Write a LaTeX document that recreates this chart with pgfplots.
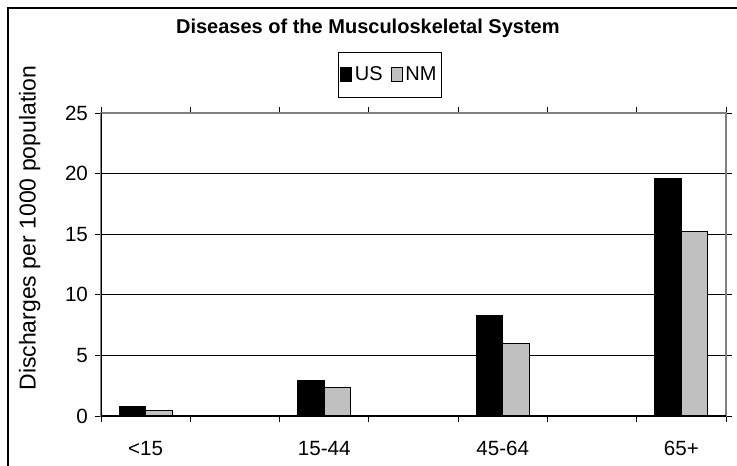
\documentclass[border=0pt]{standalone}
\usepackage{pgfplots}
\pgfplotsset{compat=1.18}
\usepackage{fontspec}
\setmainfont{Liberation Sans}
\definecolor{nmgray}{RGB}{192,192,192}
\definecolor{framegray}{RGB}{128,128,128}

\begin{document}
\begin{tikzpicture}
\clip (-50.5pt,-24.5pt) rectangle (318pt,208pt);
\fill[white] (-50.5pt,-24.5pt) rectangle (318pt,208pt);
\draw[black, line width=0.6pt] (-46.5pt,-40pt) -- (-46.5pt,204pt) -- (340pt,204pt);
\begin{axis}[
    at={(0,0)}, anchor=south west,
    scale only axis,
    width=312.5pt, height=151.5pt,
    ybar=0pt,
    bar width=13.25pt,
    xmin=-0.5, xmax=6.5,
    ymin=0, ymax=25,
    xtick={0,2,4,6},
    xticklabels={<15,15-44,45-64,65+},
    major x tick style={draw=none},
    minor xtick={-0.5,0.5,...,6.5},
    ytick={0,5,...,25},
    tick align=outside,
    major tick length=3pt,
    minor tick length=3pt,
    tick style={black, line width=0.5pt},
    ymajorgrids,
    major grid style={black, line width=0.5pt},
    axis line style={framegray, line width=0.6pt},
    tick label style={font=\fontsize{10.3}{12}\selectfont},
    /pgf/number format/assume math mode=true,
    xticklabel style={yshift=-6pt},
    ylabel={Discharges per 1000 population},
    ylabel style={at={(axis description cs:-0.114,0.62)}, anchor=center, font=\fontsize{11.5}{13}\selectfont},
    title={\textbf{Diseases of the Musculoskeletal System}},
    title style={at={(axis description cs:0.427,1.24)}, anchor=center, font=\fontsize{10}{12}\selectfont},
    legend style={at={(axis description cs:0.462,1.125)}, anchor=center,
        draw=black, line width=0.4pt, legend columns=2,
        font=\fontsize{10}{12}\selectfont, inner xsep=1pt, inner ysep=5pt,
        nodes={inner xsep=1.5pt},
        /tikz/every even column/.append style={column sep=2.5pt}},
    legend image code/.code={\draw[#1, line width=0.4pt] (0pt,-3pt) rectangle (5.5pt,4pt);},
]
\addplot[fill=black, draw=black, line width=0.5pt] coordinates {(0,0.75) (2,2.9) (4,8.3) (6,19.6)};
\addplot[fill=nmgray, draw=black, line width=0.5pt] coordinates {(0,0.45) (2,2.35) (4,6.0) (6,15.2)};
\legend{US,NM}
\draw[black, line width=0.6pt] (rel axis cs:0,1) -- (rel axis cs:0,0) -- (rel axis cs:1,0);
\end{axis}
\end{tikzpicture}
\end{document}
